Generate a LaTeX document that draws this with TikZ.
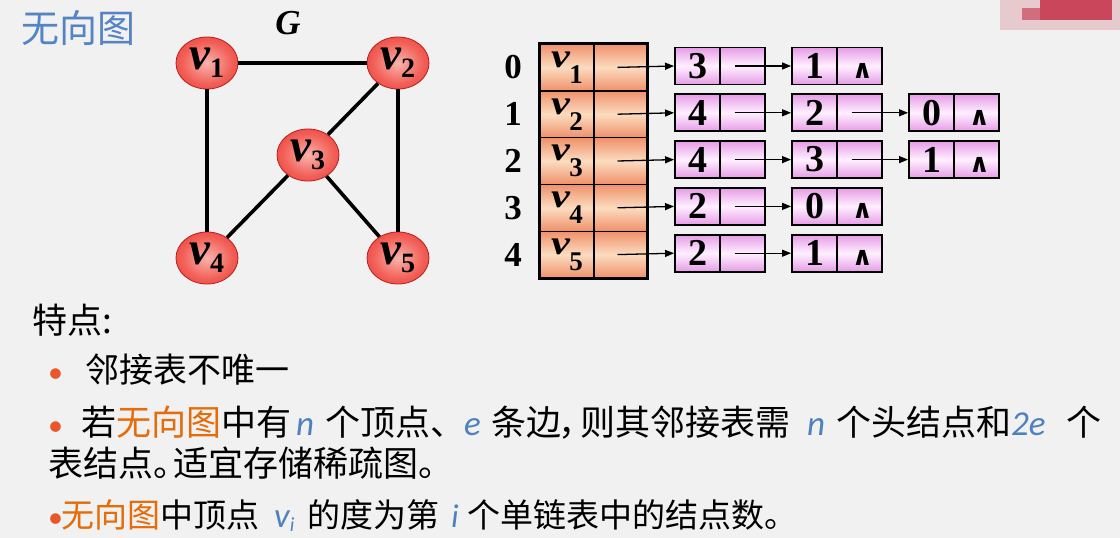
\documentclass[tikz,border=0pt]{standalone}
\usepackage{fontspec}
\usepackage{graphicx}
\setmainfont{Liberation Serif}
\newfontfamily\cjk{Noto Sans CJK SC}
\newfontfamily\carl{Carlito}
\newfontfamily\dvs{DejaVu Sans}
\usetikzlibrary{arrows.meta,shapes.geometric}

\definecolor{bg}{HTML}{F1F1F1}
\definecolor{vlight}{HTML}{F8B4AC}
\definecolor{vmid}{HTML}{F26058}
\definecolor{vred}{HTML}{EA3028}
\definecolor{vdark}{HTML}{E02820}
\definecolor{vborder}{HTML}{B82020}
\definecolor{hor}{HTML}{F0906A}
\definecolor{hlight}{HTML}{FBDCC0}
\definecolor{lpur}{HTML}{E69CE6}
\definecolor{llight}{HTML}{FFF0FF}
\definecolor{blu}{HTML}{4F81BD}
\definecolor{titleblu}{HTML}{5584C4}
\definecolor{org}{HTML}{E46C0A}
\definecolor{bul}{HTML}{E8562A}
\definecolor{blobpink}{HTML}{E6CACE}
\definecolor{blobred}{HTML}{C63048}

\pgfdeclareradialshading{vball}{\pgfpoint{0bp}{0bp}}{color(0bp)=(vlight); color(20bp)=(vmid); color(38bp)=(vred); color(70bp)=(vdark)}

\newcommand\gv[1]{{\fontsize{47}{47}\selectfont\textbf{\textit{v}}}\kern-1pt\raisebox{-8pt}{\fontsize{28}{28}\selectfont\textbf{#1}}}
\newcommand\hv[1]{\raisebox{6pt}{{\fontsize{34}{34}\selectfont\scalebox{1.25}[1]{\textbf{\textit{v}}}}\kern-1pt\raisebox{-16pt}{\fontsize{27}{27}\selectfont\textbf{#1}}}}
\newcommand\bl[1]{{\carl\itshape\color{blu}#1}}
\newcommand\og[1]{{\color{org}#1}}
\newcommand\bu{{\carl\fontsize{30}{30}\selectfont\color{bul}•}}
\newcommand\seg[2]{\makebox[#1pt][l]{#2}}

\begin{document}
\begin{tikzpicture}[x=1pt,y=-1pt,
  vert/.style={ellipse, minimum width=62pt, minimum height=52pt, inner sep=0pt,
    draw=vborder, line width=0.8pt, shading=vball},
  edge/.style={line width=3.6pt, black},
  headcell/.style={rectangle, draw=black, line width=1.4pt, minimum height=46.8pt,
    inner sep=0pt, top color=hor, bottom color=hor, middle color=hlight},
  dcell/.style={rectangle, draw=black, line width=1.9pt, minimum width=45pt, minimum height=37pt,
    inner sep=0pt, top color=lpur, bottom color=lpur, middle color=llight,
    font=\fontsize{38}{38}\selectfont\bfseries},
  pcell/.style={dcell},
  idx/.style={font=\fontsize{35}{35}\selectfont\bfseries, inner sep=0pt},
  nullsym/.style={inner sep=0pt, font=\dvs\bfseries\fontsize{26}{26}\selectfont},
  arr/.style={line width=1.3pt, -{Triangle[length=9pt,width=7pt]}},
  txt/.style={anchor=west, inner sep=0pt, font=\cjk\fontsize{35}{35}\selectfont}
]
\useasboundingbox (0,0) rectangle (1120,538);
\fill[bg] (0,0) rectangle (1120,538);
% blurred blob top right
\fill[blobpink] (1000,0) rectangle (1120,30);
\fill[blobred, opacity=0.85] (1040,0) rectangle (1112,20);
\fill[blobred, opacity=0.6] (1022,8) rectangle (1040,20);

% title
\node[anchor=west, inner sep=0pt, font=\cjk\fontsize{38}{38}\selectfont, text=titleblu] (title) at (21,28) {无向图};

% graph
\node[inner sep=0pt, font=\fontsize{35}{35}\selectfont\bfseries\itshape] (G) at (288,23) {G};
\node[vert] (v1) at (207,63) {\gv{1}};
\node[vert] (v2) at (398,63) {\gv{2}};
\node[vert] (v3) at (308,155) {\gv{3}};
\node[vert] (v4) at (207,258) {\gv{4}};
\node[vert] (v5) at (398,258) {\gv{5}};
\draw[edge] (v1) -- (v2);
\draw[edge] (v1) -- (v4);
\draw[edge] (v2) -- (v3);
\draw[edge] (v2) -- (v5);
\draw[edge] (v3) -- (v4);
\draw[edge] (v3) -- (v5);

% head array
\foreach \i/\lab in {0/1,1/2,2/3,3/4,4/5} {
  \pgfmathsetmacro\yc{67.4+46.8*\i}
  \node[idx] (i\i) at (513,\yc) {\i};
  \node[headcell, minimum width=54pt] (ha\i) at (567,\yc) {\hv{\lab}};
  \node[headcell, minimum width=53pt] (hb\i) at (620.5,\yc) {};
}
\draw[line width=2.6pt] (ha0.north west) rectangle (hb4.south east);

% list nodes
\foreach \r/\c/\d in {0/0/3,0/1/1,1/0/4,1/1/2,1/2/0,2/0/4,2/1/3,2/2/1,3/0/2,3/1/0,4/0/2,4/1/1} {
  \pgfmathsetmacro\yc{66+46.8*\r}
  \pgfmathsetmacro\xd{697.5+117*\c}
  \pgfmathsetmacro\xp{\xd+45}
  \node[dcell] (d\r\c) at (\xd,\yc) {\d};
  \node[pcell] (p\r\c) at (\xp,\yc) {};
}
\foreach \r/\c in {0/1,1/2,2/2,3/1,4/1} {
  \node[nullsym] (z\r\c) at ([xshift=3pt,yshift=-5pt]p\r\c.center) {∧};
}

\foreach \r in {0,...,4} {
  \draw[arr] ([xshift=-3pt]hb\r.center) -- (d\r0.west);
}
\foreach \r/\c/\m in {0/0/1,1/0/1,1/1/2,2/0/1,2/1/2,3/0/1,4/0/1} {
  \draw[arr] ([xshift=-8pt]p\r\c.center) -- (d\r\m.west);
}

% text
\node[txt] (t0) at (32,320) {特点:};
\node[txt, font=\cjk\fontsize{34}{34}\selectfont] (t1) at (48,370) {\seg{37}{\bu}邻接表不唯一};
\node[txt] (t2) at (48,423) {\seg{33}{\bu}\seg{215}{若\og{无向图}中有}\seg{29}{\bl{n}}\seg{139}{个顶点、}\seg{27}{\bl{e}}\seg{67}{条边}\seg{22}{，}\seg{227}{则其邻接表需}\seg{29}{\bl{n}}\seg{175}{个头结点和}\seg{55}{\bl{2e}}个};
\node[txt] (t3) at (48,463) {\seg{105}{表结点}\seg{20}{。}适宜存储稀疏图。};
\node[txt, font=\cjk\fontsize{33}{33}\selectfont] (t4) at (48,516) {\seg{13}{\bu}\seg{213}{\og{无向图}中顶点}\seg{33}{\bl{\fontsize{35}{35}\selectfont v\raisebox{-4pt}{\fontsize{20}{20}\selectfont i}}}\seg{144}{的度为第}\seg{16}{\bl{i}}个单链表中的结点数。};
\end{tikzpicture}
\end{document}
